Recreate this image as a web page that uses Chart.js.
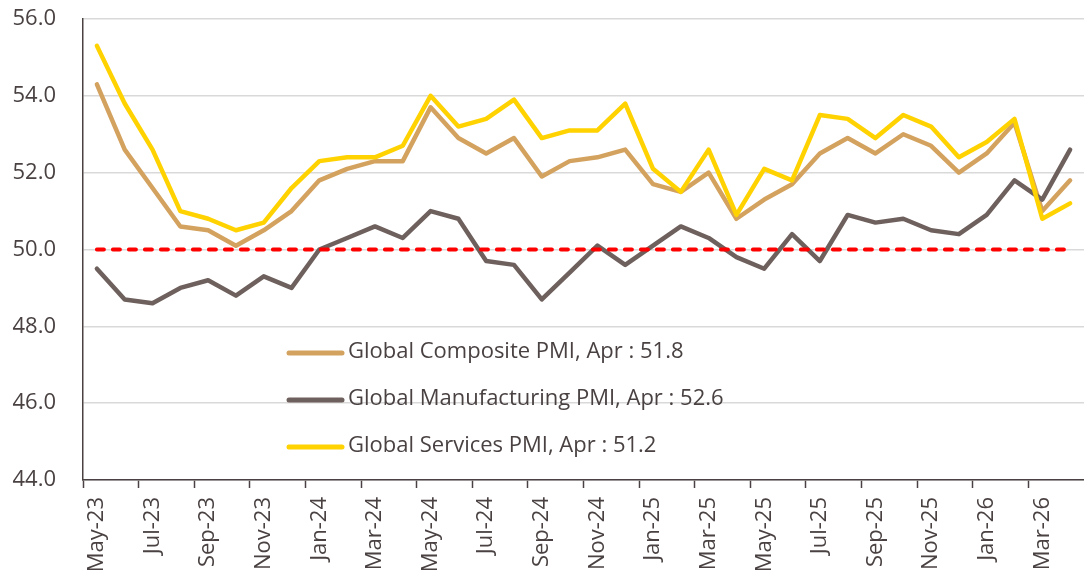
<!DOCTYPE html>
<html>
<head>
<meta charset="utf-8">
<script src="https://cdn.jsdelivr.net/npm/chart.js@4/dist/chart.umd.min.js"></script>
<style>
  html, body { margin: 0; padding: 0; background: #fff; }
  #wrap { width: 1084px; height: 577px; position: relative; }
</style>
</head>
<body>
<div id="wrap"><canvas id="pmi"></canvas></div>
<script>
const months = [
  "May-23", "Jun-23", "Jul-23", "Aug-23", "Sep-23", "Oct-23", "Nov-23", "Dec-23",
  "Jan-24", "Feb-24", "Mar-24", "Apr-24", "May-24", "Jun-24", "Jul-24", "Aug-24",
  "Sep-24", "Oct-24", "Nov-24", "Dec-24", "Jan-25", "Feb-25", "Mar-25", "Apr-25",
  "May-25", "Jun-25", "Jul-25", "Aug-25", "Sep-25", "Oct-25", "Nov-25", "Dec-25",
  "Jan-26", "Feb-26", "Mar-26", "Apr-26"
];

const composite = [
  54.3, 52.6, 51.6, 50.6, 50.5, 50.1, 50.5, 51.0, 51.8, 52.1, 52.3, 52.3,
  53.7, 52.9, 52.5, 52.9, 51.9, 52.3, 52.4, 52.6, 51.7, 51.5, 52.0, 50.8,
  51.3, 51.7, 52.5, 52.9, 52.5, 53.0, 52.7, 52.0, 52.5, 53.3, 51.0, 51.8
];

const manufacturing = [
  49.5, 48.7, 48.6, 49.0, 49.2, 48.8, 49.3, 49.0, 50.0, 50.3, 50.6, 50.3,
  51.0, 50.8, 49.7, 49.6, 48.7, 49.4, 50.1, 49.6, 50.1, 50.6, 50.3, 49.8,
  49.5, 50.4, 49.7, 50.9, 50.7, 50.8, 50.5, 50.4, 50.9, 51.8, 51.3, 52.6
];

const services = [
  55.3, 53.8, 52.6, 51.0, 50.8, 50.5, 50.7, 51.6, 52.3, 52.4, 52.4, 52.7,
  54.0, 53.2, 53.4, 53.9, 52.9, 53.1, 53.1, 53.8, 52.1, 51.5, 52.6, 50.9,
  52.1, 51.8, 53.5, 53.4, 52.9, 53.5, 53.2, 52.4, 52.8, 53.4, 50.8, 51.2
];

// 50 = expansion / contraction threshold
const threshold = months.map(() => 50);

const seriesNames = [
  "Global Composite PMI, Apr : 51.8",
  "Global Manufacturing PMI, Apr : 52.6",
  "Global Services PMI, Apr : 51.2"
];

const yTicks = [44, 46, 48, 50, 52, 54, 56];

const TEXT = "#4a4242";
const FONT = "'Open Sans'";
const colors = ["#d4a25f", "#6e605d", "#ffd200"];

function lineSet(label, data, color, order) {
  return {
    label, data, order,
    borderColor: color,
    backgroundColor: color,
    borderWidth: 4.5,
    borderCapStyle: "round",
    borderJoinStyle: "round",
    pointRadius: 0,
    tension: 0
  };
}

// legend drawn inside the plot
const innerLegend = {
  id: "innerLegend",
  afterDatasetsDraw(chart) {
    const { ctx, chartArea } = chart;
    const x0 = chartArea.left + 206;
    const y0 = chartArea.top + 333;
    ctx.save();
    ctx.font = `22px ${FONT}`;
    ctx.textBaseline = "middle";
    ctx.fillStyle = TEXT;
    seriesNames.forEach((name, i) => {
      const y = y0 + i * 47;
      ctx.strokeStyle = colors[i];
      ctx.lineWidth = 5;
      ctx.lineCap = "round";
      ctx.beginPath();
      ctx.moveTo(x0, y + 1);
      ctx.lineTo(x0 + 53, y + 1);
      ctx.stroke();
      ctx.fillText(name, x0 + 59, y);
    });
    ctx.restore();
  }
};

const ctx = document.getElementById("pmi").getContext("2d");
new Chart(ctx, {
  type: "line",
  data: {
    labels: months,
    datasets: [
      lineSet(seriesNames[0], composite, colors[0], 4),
      lineSet(seriesNames[1], manufacturing, colors[1], 3),
      lineSet(seriesNames[2], services, colors[2], 2),
      {
        label: "50",
        data: threshold,
        order: 1,
        borderColor: "#ff0000",
        borderWidth: 4,
        borderDash: [7, 9],
        borderCapStyle: "round",
        pointRadius: 0
      }
    ]
  },
  options: {
    responsive: true,
    maintainAspectRatio: false,
    animation: false,
    layout: { padding: { top: 19, left: 0, right: 0, bottom: 0 } },
    plugins: {
      legend: { display: false },
      tooltip: { enabled: false }
    },
    scales: {
      x: {
        type: "category",
        offset: true,
        afterFit(scale) {
          scale.height = 97;
          scale.paddingLeft = 0;
          scale.paddingRight = 0;
        },
        grid: {
          offset: true,
          drawOnChartArea: false,
          drawTicks: true,
          tickLength: 8,
          tickWidth: 1.5,
          tickColor: (c) => (c.index % 2 === 0 ? TEXT : "rgba(0,0,0,0)")
        },
        border: { color: TEXT, width: 1.5 },
        ticks: {
          autoSkip: false,
          minRotation: 90,
          maxRotation: 90,
          padding: 9,
          color: TEXT,
          font: { family: FONT, size: 22 },
          callback: (v, i) => (i % 2 === 0 ? months[i] : "")
        }
      },
      y: {
        min: 44,
        max: 56,
        afterFit(scale) {
          scale.width = 83;
          scale.paddingTop = 0;
          scale.paddingBottom = 0;
        },
        afterBuildTicks(scale) {
          scale.ticks = yTicks.map(v => ({ value: v }));
        },
        grid: {
          color: "#d9d9d9",
          lineWidth: 1.5,
          drawTicks: false
        },
        border: { color: TEXT, width: 1.5 },
        ticks: {
          padding: 27,
          color: TEXT,
          font: { family: FONT, size: 22 },
          callback: (v) => v.toFixed(1)
        }
      }
    }
  },
  plugins: [innerLegend]
});
</script>
</body>
</html>
